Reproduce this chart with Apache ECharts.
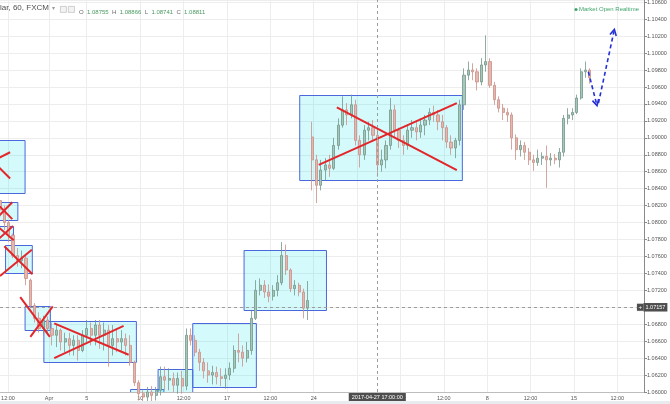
<!DOCTYPE html>
<html><head><meta charset="utf-8">
<script src="https://cdn.jsdelivr.net/npm/echarts/dist/echarts.min.js"></script>
<style>html,body{margin:0;padding:0;background:#fff}#c{width:670px;height:404px}</style>
</head><body><div id="c"></div>
<script>
// ---- data ----
const barsTotal = 892;          // hourly bars across the view
const barsPerCandle = 6;        // each drawn candle = 6 hourly bars
const tickLabels = {11:'12:00',68:'Apr',120:'5',194:'10',254:'12:00',314:'17',374:'12:00',434:'24',494:'12:00',554:'May',614:'12:00',674:'8',734:'12:00',794:'15',854:'12:00'};
// [open, close, low, high]
const candles = [
[1.0826,1.0815,1.0809,1.0836],[1.0815,1.0800,1.0791,1.0820],[1.0800,1.0785,1.0777,1.0803],[1.0785,1.0761,1.0758,1.0787],
[1.0761,1.0755,1.0748,1.0770],[1.0755,1.0758,1.0746,1.0767],[1.0758,1.0734,1.0726,1.0761],[1.0732,1.0702,1.0699,1.0734],
[1.0702,1.0687,1.0682,1.0705],[1.0687,1.0675,1.0670,1.0694],[1.0675,1.0685,1.0668,1.0690],[1.0685,1.0675,1.0667,1.0689],
[1.0675,1.0667,1.0655,1.0682],[1.0667,1.0673,1.0653,1.0679],[1.0673,1.0659,1.0649,1.0675],[1.0659,1.0663,1.0647,1.0670],
[1.0663,1.0655,1.0643,1.0670],[1.0655,1.0661,1.0643,1.0667],[1.0661,1.0649,1.0637,1.0667],[1.0649,1.0667,1.0647,1.0673],
[1.0667,1.0675,1.0659,1.0685],[1.0675,1.0667,1.0655,1.0682],[1.0667,1.0679,1.0655,1.0685],[1.0679,1.0667,1.0651,1.0685],
[1.0667,1.0673,1.0649,1.0682],[1.0673,1.0655,1.0630,1.0679],[1.0655,1.0663,1.0643,1.0679],[1.0663,1.0659,1.0647,1.0675],
[1.0659,1.0663,1.0649,1.0673],[1.0663,1.0655,1.0643,1.0669],[1.0655,1.0635,1.0631,1.0667],[1.0635,1.0611,1.0607,1.0637],
[1.0611,1.0598,1.0590,1.0614],[1.0598,1.0594,1.0586,1.0602],[1.0594,1.0600,1.0588,1.0606],[1.0600,1.0596,1.0589,1.0607],
[1.0596,1.0602,1.0590,1.0606],[1.0602,1.0618,1.0596,1.0630],[1.0618,1.0614,1.0602,1.0630],[1.0614,1.0616,1.0602,1.0628],
[1.0616,1.0608,1.0600,1.0623],[1.0608,1.0616,1.0598,1.0623],[1.0616,1.0607,1.0598,1.0625],[1.0607,1.0667,1.0602,1.0675],
[1.0667,1.0661,1.0655,1.0675],[1.0661,1.0647,1.0642,1.0667],[1.0647,1.0635,1.0625,1.0651],[1.0635,1.0625,1.0616,1.0640],
[1.0625,1.0620,1.0611,1.0635],[1.0620,1.0623,1.0609,1.0631],[1.0623,1.0618,1.0609,1.0630],[1.0618,1.0616,1.0607,1.0628],
[1.0616,1.0620,1.0604,1.0628],[1.0620,1.0628,1.0614,1.0635],[1.0628,1.0649,1.0623,1.0655],[1.0649,1.0647,1.0635,1.0669],
[1.0647,1.0640,1.0630,1.0655],[1.0640,1.0649,1.0635,1.0659],[1.0649,1.0687,1.0644,1.0696],[1.0687,1.0720,1.0685,1.0732],
[1.0720,1.0726,1.0714,1.0734],[1.0726,1.0718,1.0711,1.0732],[1.0718,1.0713,1.0706,1.0727],[1.0713,1.0720,1.0708,1.0726],
[1.0720,1.0729,1.0713,1.0738],[1.0729,1.0761,1.0726,1.0777],[1.0761,1.0744,1.0738,1.0774],[1.0744,1.0722,1.0718,1.0746],
[1.0722,1.0726,1.0714,1.0732],[1.0726,1.0718,1.0713,1.0729],[1.0718,1.0699,1.0687,1.0722],[1.0699,1.0708,1.0685,1.0731],
[1.0901,1.0874,1.0838,1.0919],[1.0874,1.0844,1.0823,1.0880],[1.0844,1.0862,1.0838,1.0874],[1.0862,1.0868,1.0850,1.0876],
[1.0868,1.0864,1.0854,1.0880],[1.0864,1.0891,1.0862,1.0900],[1.0891,1.0915,1.0886,1.0923],[1.0915,1.0933,1.0912,1.0949],
[1.0933,1.0927,1.0915,1.0941],[1.0927,1.0939,1.0923,1.0951],[1.0939,1.0897,1.0891,1.0945],[1.0897,1.0880,1.0865,1.0903],
[1.0880,1.0909,1.0874,1.0915],[1.0909,1.0912,1.0897,1.0919],[1.0912,1.0903,1.0895,1.0921],[1.0903,1.0868,1.0854,1.0915],
[1.0868,1.0874,1.0860,1.0886],[1.0874,1.0891,1.0864,1.0897],[1.0891,1.0933,1.0886,1.0947],[1.0933,1.0909,1.0900,1.0939],
[1.0909,1.0897,1.0888,1.0912],[1.0897,1.0891,1.0880,1.0903],[1.0891,1.0909,1.0886,1.0915],[1.0909,1.0912,1.0900,1.0921],
[1.0912,1.0907,1.0897,1.0919],[1.0907,1.0915,1.0900,1.0923],[1.0915,1.0921,1.0903,1.0927],[1.0921,1.0930,1.0915,1.0935],
[1.0930,1.0927,1.0919,1.0938],[1.0927,1.0919,1.0909,1.0933],[1.0919,1.0912,1.0897,1.0927],[1.0912,1.0895,1.0888,1.0915],
[1.0895,1.0888,1.0880,1.0903],[1.0888,1.0897,1.0876,1.0900],[1.0897,1.0939,1.0891,1.0945],[1.0939,1.0974,1.0933,1.0982],
[1.0974,1.0980,1.0968,1.0990],[1.0980,1.0978,1.0968,1.0988],[1.0978,1.0966,1.0956,1.0982],[1.0966,1.0986,1.0962,1.0994],
[1.0986,1.0990,1.0978,1.1021],[1.0990,1.0962,1.0959,1.0994],[1.0962,1.0945,1.0939,1.0966],[1.0945,1.0935,1.0930,1.0949],
[1.0935,1.0930,1.0921,1.0940],[1.0930,1.0927,1.0919,1.0935],[1.0927,1.0900,1.0886,1.0930],[1.0900,1.0886,1.0874,1.0904],
[1.0886,1.0891,1.0878,1.0897],[1.0891,1.0883,1.0874,1.0895],[1.0883,1.0874,1.0868,1.0888],[1.0874,1.0871,1.0861,1.0880],
[1.0871,1.0876,1.0867,1.0886],[1.0876,1.0878,1.0868,1.0883],[1.0878,1.0874,1.0841,1.0891],[1.0874,1.0876,1.0867,1.0882],
[1.0876,1.0874,1.0869,1.0881],[1.0874,1.0883,1.0865,1.0888],[1.0883,1.0923,1.0878,1.0927],[1.0923,1.0927,1.0916,1.0935],
[1.0927,1.0930,1.0921,1.0935],[1.0930,1.0947,1.0928,1.0951],[1.0947,1.0978,1.0945,1.0982],[1.0978,1.0980,1.0971,1.0990],
[1.0980,1.0971,1.0964,1.0982]
];
// drawn rectangles: [barFrom, priceA, barTo, priceB]
const boxes = [
[-14,1.0897,34,1.0834],[-14,1.0824,24,1.0803],[-14,1.0796,18,1.0779],[7,1.0773,44,1.0740],
[34,1.0702,69,1.0674],[60,1.0684,188,1.0636],[180,1.0603,226,1.0588],[218,1.0627,266,1.0588],
[266,1.0681,354,1.0606],[337,1.0768,451,1.0697],[414,1.0951,639,1.0851]
];
// red crossing lines: [barFrom, priceFrom, barTo, priceTo]
const crossLines = [
[-14,1.0871,14,1.0883],[-14,1.0876,14,1.0852],
[-6,1.0824,17,1.0804],[-6,1.0804,17,1.0824],
[-4,1.0796,19,1.0779],[-4,1.0779,18,1.0796],
[6,1.0772,45,1.0739],[0,1.0737,44,1.0768],
[28,1.0712,69,1.0665],[42,1.0665,73,1.0701],
[75,1.0681,178,1.0644],[75,1.0640,171,1.0678],
[441,1.0868,632,1.0941],[466,1.0936,632,1.0862]
];
// blue dashed forecast arrows
const arrows = [[814,1.0978,826,1.0938],[828,1.0941,850,1.1028]];
const crosshairBar = 522, crosshairPrice = 1.07157, crosshairTime = '2017-04-27 17:00:00';
const yMin = 1.06, yMax = 1.10627, yStep = 0.002;

// ---- build ----
const cats = Array.from({length: barsTotal}, (_, i) => String(i));
const candleRows = candles.map((c, k) => [k * barsPerCandle, c[0], c[1], c[2], c[3]]);
const isTick = (i) => tickLabels[i] !== undefined;
const FF = 'Liberation Sans, Arial, sans-serif';
const chart = echarts.init(document.getElementById('c'), null, {renderer: 'canvas'});

function rectItem(params, api) {
  const a = api.coord([api.value(0), api.value(1)]);
  const b = api.coord([api.value(2), api.value(3)]);
  return {type: 'rect', shape: {x: Math.min(a[0], b[0]) + 0.5, y: Math.round(Math.min(a[1], b[1])) + 0.5,
    width: Math.abs(b[0] - a[0]), height: Math.round(Math.abs(b[1] - a[1]))},
    style: {fill: 'rgba(0,228,240,0.17)', stroke: '#4a68dc', lineWidth: 1}};
}
function lineItem(params, api) {
  const a = api.coord([api.value(0), api.value(1)]);
  const b = api.coord([api.value(2), api.value(3)]);
  return {type: 'line', shape: {x1: a[0], y1: a[1], x2: b[0], y2: b[1]}, style: {stroke: '#e2262a', lineWidth: 2}};
}
function arrowItem(params, api) {
  const a = api.coord([api.value(0), api.value(1)]);
  const b = api.coord([api.value(2), api.value(3)]);
  const dx = b[0] - a[0], dy = b[1] - a[1], L = Math.hypot(dx, dy);
  const ux = dx / L, uy = dy / L, nx = -uy, ny = ux, hl = 6, hw = 3.2;
  return {type: 'group', children: [
    {type: 'line', shape: {x1: a[0], y1: a[1], x2: b[0] - ux * 2, y2: b[1] - uy * 2},
      style: {stroke: '#2430d6', lineWidth: 1.6, lineDash: [4, 3]}},
    {type: 'polyline', shape: {points: [[b[0] - ux * hl + nx * hw, b[1] - uy * hl + ny * hw], [b[0], b[1]], [b[0] - ux * hl - nx * hw, b[1] - uy * hl - ny * hw]]},
      style: {stroke: '#2430d6', lineWidth: 1.6, fill: null}}
  ]};
}

const option = {
  animation: false,
  backgroundColor: '#ffffff',
  grid: {left: 0, right: 26, top: 0, bottom: 12, containLabel: false, outerBoundsMode: 'none'},
  xAxis: {
    type: 'category', data: cats, boundaryGap: false, min: 0, max: barsTotal - 1,
    axisLine: {show: true, lineStyle: {color: '#bdbdbd'}},
    axisTick: {show: false},
    axisLabel: {interval: (i) => isTick(i), formatter: (v) => tickLabels[v] || '', fontSize: 5.5, color: '#555', margin: 3, fontFamily: FF, hideOverlap: false},
    splitLine: {show: true, interval: (i) => isTick(i), lineStyle: {color: '#ededed', width: 1}}
  },
  yAxis: {
    type: 'value', position: 'right', min: yMin, max: yMax, interval: yStep, scale: true,
    axisLine: {show: true, lineStyle: {color: '#8a8a8a'}},
    axisTick: {show: true, length: 3, lineStyle: {color: '#8a8a8a'}},
    axisLabel: {fontSize: 5.5, color: '#555', margin: 3, fontFamily: FF, showMaxLabel: false, formatter: (v) => v.toFixed(5)},
    splitLine: {show: true, lineStyle: {color: '#ededed', width: 1}}
  },
  series: [
    {type: 'custom', name: 'boxes', data: boxes, renderItem: rectItem, clip: true, silent: true, z: 1,
      encode: {x: 0, y: 1}},
    {type: 'candlestick', name: 'EURUSD', data: candleRows, encode: {x: 0, y: [1, 2, 3, 4]}, clip: true, z: 3,
      barWidth: 2.6,
      itemStyle: {color: '#a7c7b8', color0: '#e6b7ae', borderColor: '#74978a', borderColor0: '#c98f86', borderWidth: 0.8},
      markLine: {silent: true, symbol: ['none', 'none'], animation: false,
        lineStyle: {color: '#9c9c9c', type: [3, 3], width: 1},
        data: [
          {xAxis: crosshairBar, label: {show: true, position: 'start', distance: 1, formatter: crosshairTime,
            fontSize: 5.5, fontFamily: FF, color: '#fff', backgroundColor: '#4e4e4e', padding: [1.5, 3, 1, 3]}},
          {yAxis: crosshairPrice, label: {show: true, position: 'end', distance: -7,
            formatter: '{p|+}{v|' + crosshairPrice.toFixed(5) + '}',
            rich: {p: {fontSize: 6, color: '#fff', backgroundColor: '#4e4e4e', padding: [1, 1.5, 0, 1.5], fontFamily: FF, borderColor: '#e0e0e0', borderWidth: 0.5},
                   v: {fontSize: 5.5, color: '#fff', backgroundColor: '#4e4e4e', padding: [1.5, 2, 1, 2], fontFamily: FF}}}}
        ]}},
    {type: 'custom', name: 'cross', data: crossLines, renderItem: lineItem, clip: true, silent: true, z: 4, encode: {x: 0, y: 1}},
    {type: 'custom', name: 'forecast', data: arrows, renderItem: arrowItem, clip: true, silent: true, z: 4, encode: {x: 0, y: 1}}
  ],
  graphic: [
    {type: 'rect', left: 0, top: 401, shape: {width: 670, height: 3}, style: {fill: '#e9ecef'}, z: 10},
    {type: 'text', left: 0, top: 4, style: {text: 'lar, 60, FXCM', fontSize: 8, fontFamily: FF, fill: '#4f4f4f'}, z: 10},
    {type: 'text', left: 52, top: 5, style: {text: '▾', fontSize: 6, fontFamily: 'DejaVu Sans', fill: '#9a9a9a'}, z: 10},
    {type: 'rect', left: 60, top: 6, shape: {width: 6, height: 6}, style: {fill: '#f3f3f3', stroke: '#c4c4c4', lineWidth: 0.8}, z: 10},
    {type: 'rect', left: 68, top: 6, shape: {width: 6, height: 6}, style: {fill: '#f3f3f3', stroke: '#c4c4c4', lineWidth: 0.8}, z: 10},
    {type: 'text', left: 79, top: 6, style: {text: '{k|O} {v|1.08755} {k|H} {v|1.08866} {k|L} {v|1.08741} {k|C} {v|1.08811}',
      rich: {k: {fontSize: 6, fontFamily: FF, fill: '#6a6a6a'}, v: {fontSize: 6, fontFamily: FF, fill: '#4b9a62'}}}, z: 10},
    {type: 'circle', shape: {cx: 576, cy: 9.5, r: 1.6}, style: {fill: '#3fa56c'}, z: 10},
    {type: 'text', left: 579, top: 6, style: {text: 'Market Open Realtime', fontSize: 6, fontFamily: FF, fill: '#3fa56c'}, z: 10}
  ]
};
chart.setOption(option);
</script>
</body></html>
